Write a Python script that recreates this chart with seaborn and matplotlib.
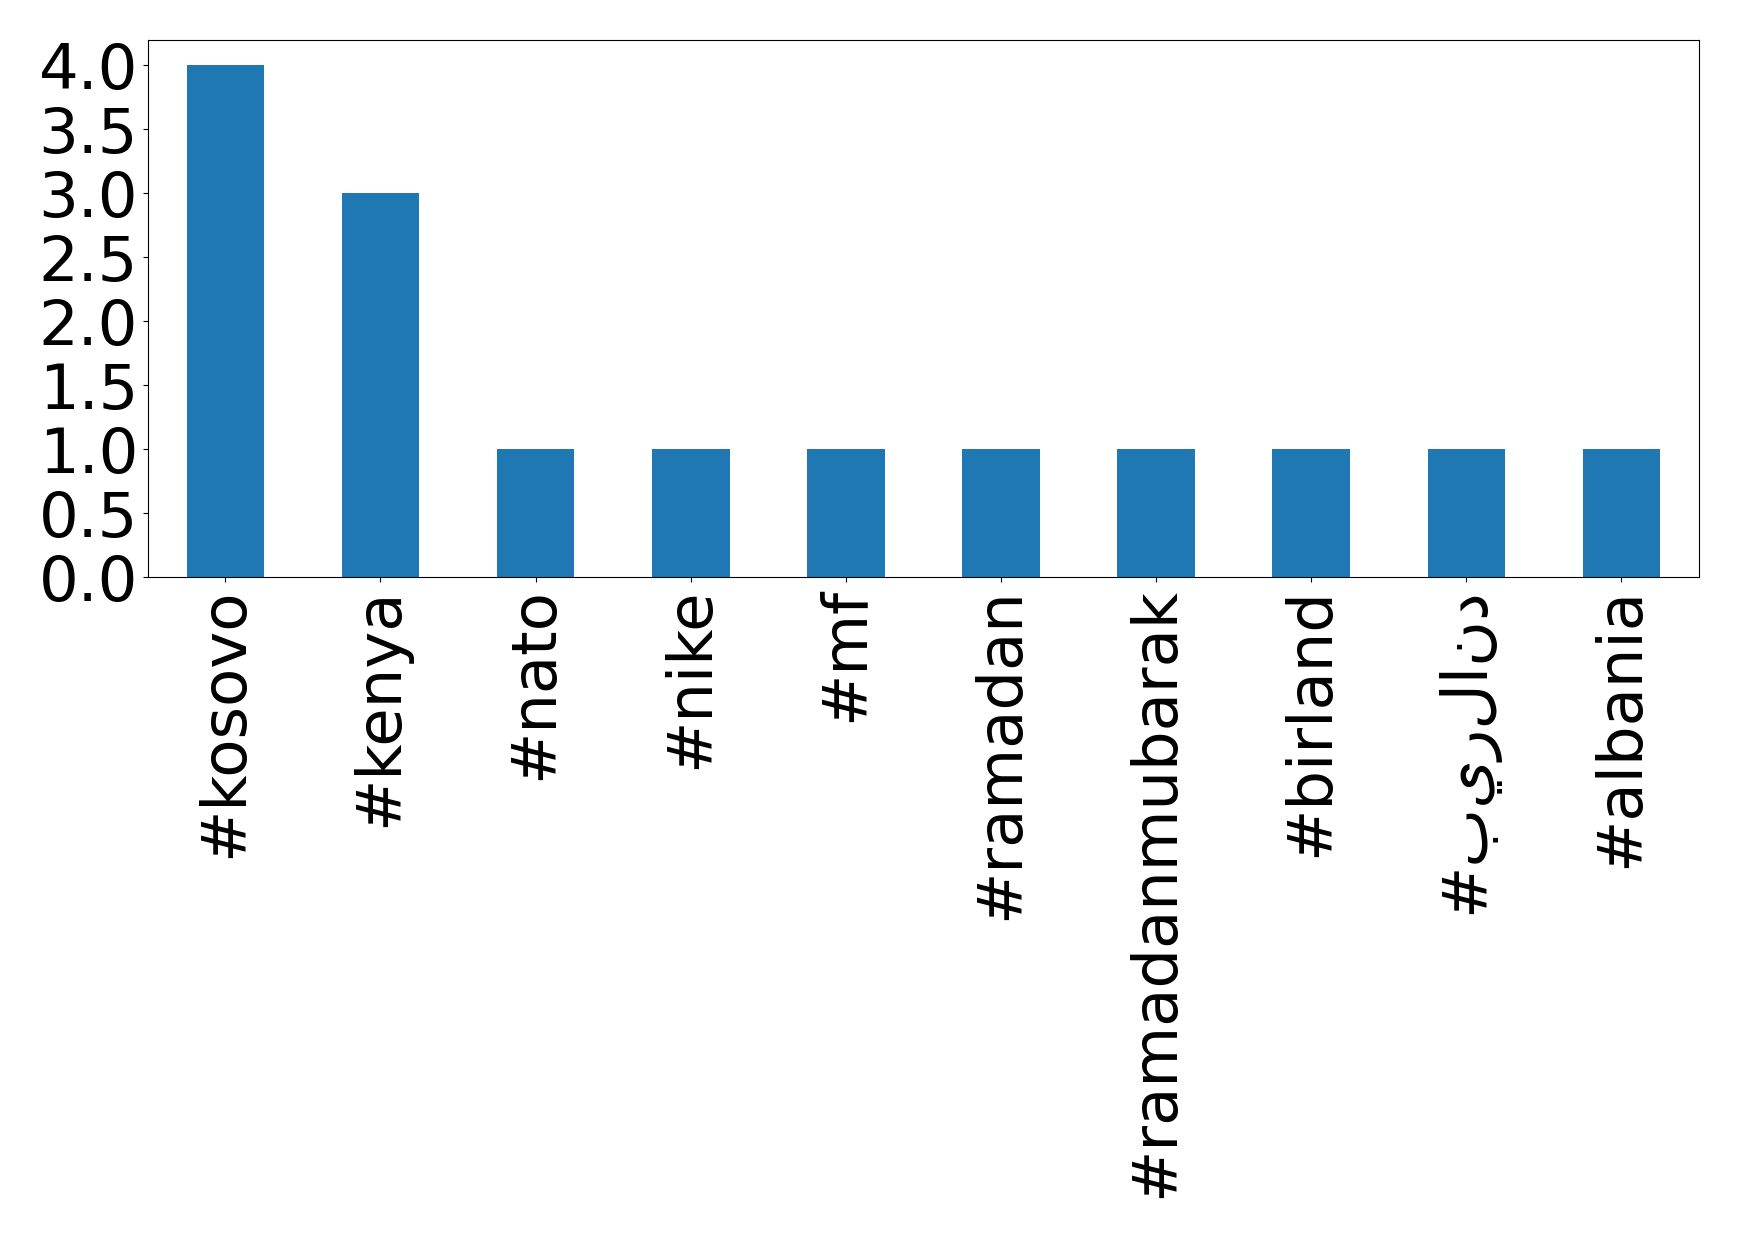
import pandas as pd
import matplotlib
matplotlib.use("Agg")
import matplotlib.pyplot as plt
import seaborn as sns

# -------------------------------
# Data
# -------------------------------
hashtags = ['#kosovo', '#kenya', '#nato', '#nike', '#mf', '#ramadan',
            '#ramadanmubarak', '#birland', '#بيرلاند', '#albania']
counts = [4, 3, 1, 1, 1, 1, 1, 1, 1, 1]

df = pd.DataFrame({'hashtag': hashtags, 'count': counts})

# -------------------------------
# Plot
# -------------------------------
fig, ax = plt.subplots(figsize=(17.39, 12.39), dpi=100)
sns.barplot(data=df, x='hashtag', y='count', order=hashtags,
            color='#1f77b4', saturation=1, width=0.5, ax=ax)

ax.set_xlim(-0.5, len(hashtags) - 0.5)
ax.set_ylim(0, 4.2)
ax.set_yticks([0, 0.5, 1.0, 1.5, 2.0, 2.5, 3.0, 3.5, 4.0])
ax.set_yticklabels(['0.0', '0.5', '1.0', '1.5', '2.0', '2.5', '3.0', '3.5', '4.0'])
ax.set_xlabel('')
ax.set_ylabel('')
ax.tick_params(axis='both', labelsize=45)
ax.tick_params(axis='x', labelrotation=90)

plt.subplots_adjust(left=0.085, right=0.977, top=0.968, bottom=0.534)
fig.savefig('out.png', dpi=100)
